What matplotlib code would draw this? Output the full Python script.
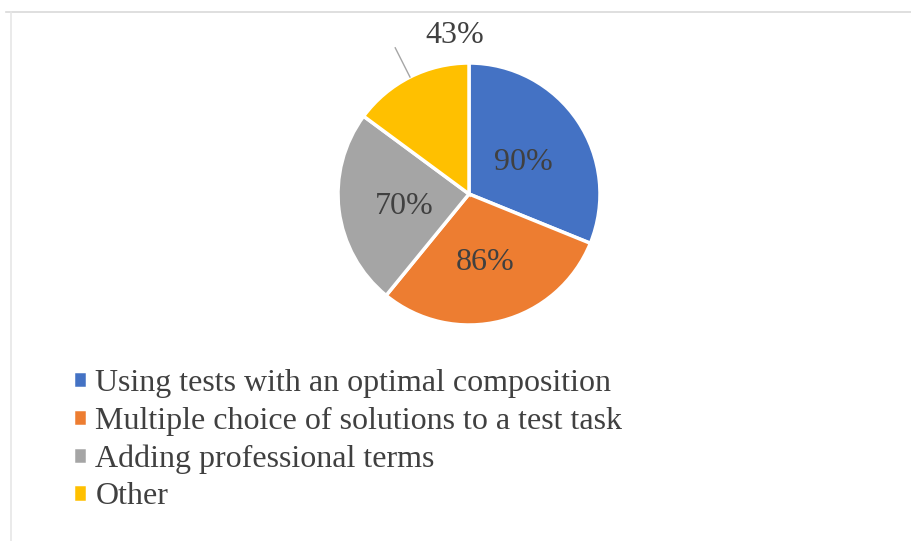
import numpy as np
import matplotlib
matplotlib.use('Agg')
import matplotlib.pyplot as plt
from matplotlib.lines import Line2D

# ============================================
# Data
# ============================================
categories = ["Using tests with an optimal composition",
              "Multiple choice of solutions to a test task",
              "Adding professional terms",
              "Other"]
values = [90, 86, 70, 43]
labels = ["90%", "86%", "70%", "43%"]
colors = ["#4472C4", "#ED7D31", "#A5A5A5", "#FFC000"]

plt.rcParams['font.family'] = ['Liberation Serif', 'DejaVu Serif']

W, H = 912, 541
fig = plt.figure(figsize=(W / 100, H / 100), dpi=100)

# pie centre (469, 194) px from top-left, radius 131 px
cx, cy, r = 469, 194, 131
half = 200
ax = fig.add_axes([(cx - half) / W, (H - cy - half) / H, 2 * half / W, 2 * half / H])
ax.axis('off')

wedges, _ = ax.pie(values, colors=colors, startangle=90, counterclock=False,
                   radius=1, wedgeprops=dict(edgecolor='white', linewidth=2.5))
# pie() resets limits, so set them afterwards
ax.set_xlim(-half / r, half / r)
ax.set_ylim(-half / r, half / r)
ax.set_aspect('equal')

# labels: first three inside, last outside with a leader line
for i, w in enumerate(wedges):
    ang = np.deg2rad((w.theta1 + w.theta2) / 2)
    if i < 3:
        ax.text(0.5 * np.cos(ang), 0.5 * np.sin(ang) - 0.035, labels[i],
                ha='center', va='center', fontsize=23, color='#404040')
    else:
        ax.plot([np.cos(ang), 1.25 * np.cos(ang)],
                [np.sin(ang), 1.25 * np.sin(ang)], color='#a6a6a6', lw=1)
        ax.text(-0.11, 1.21, labels[i], ha='center', va='center',
                fontsize=23, color='#404040')

# legend
fig.legend(wedges, categories, loc='upper left',
           bbox_to_anchor=(73 / W, 1 - 369 / H), frameon=False,
           fontsize=23, labelcolor='#404040', handlelength=0.45,
           handleheight=0.45, handletextpad=0.25, labelspacing=0.27,
           borderpad=0, borderaxespad=0)

# thin frame lines at top and left
fig.add_artist(Line2D([6 / W, 1], [1 - 12 / H, 1 - 12 / H], color='#d9d9d9', lw=1.2))
fig.add_artist(Line2D([11 / W, 11 / W], [0, 1 - 12 / H], color='#e6e6e6', lw=1.2))

fig.savefig("out.png", dpi=100)
